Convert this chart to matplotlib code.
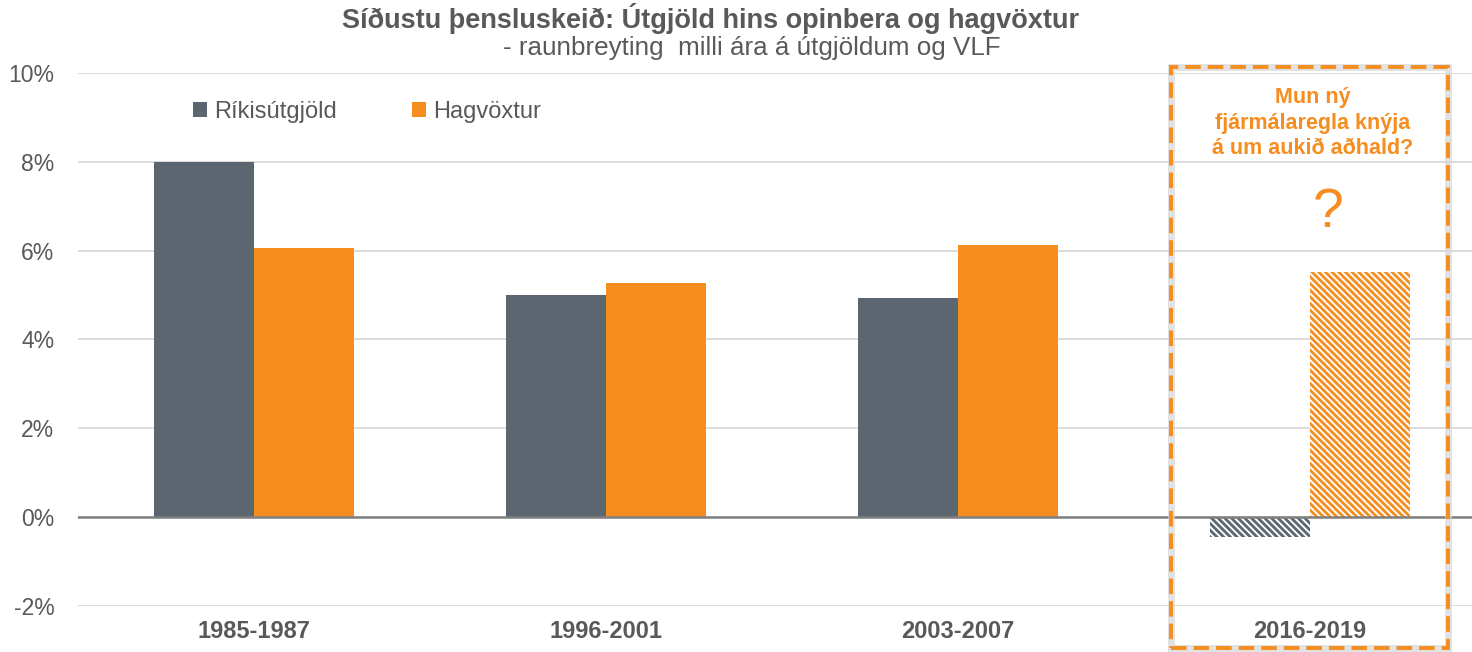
import matplotlib
matplotlib.use("Agg")
import matplotlib.pyplot as plt
from matplotlib.patches import Rectangle
import numpy as np

plt.rcParams['font.family'] = ['Liberation Sans', 'DejaVu Sans']
plt.rcParams['hatch.linewidth'] = 2.0

# data
periods = ["1985-1987", "1996-2001", "2003-2007", "2016-2019"]
rikisutgjold = [8.0, 5.0, 4.93, -0.45]
hagvoxtur = [6.05, 5.28, 6.13, 5.52]
yticks = [-2, 0, 2, 4, 6, 8, 10]

GRAY = "#5C6670"
ORANGE = "#F58D1F"
TXT = "#595959"

fig = plt.figure(figsize=(14.72, 6.52), dpi=100)
ax = fig.add_axes([78/1472, 1 - 606/652, (1472-78)/1472, (606-73)/652])

x = np.arange(len(periods))
w = 0.284
n = len(periods)
# solid bars for the first three periods, hatched forecast for the last
ax.bar(x[:n-1] - w/2, rikisutgjold[:n-1], w, color=GRAY, zorder=3, label="Ríkisútgjöld")
ax.bar(x[:n-1] + w/2, hagvoxtur[:n-1], w, color=ORANGE, zorder=3, label="Hagvöxtur")
ax.bar(x[n-1] - w/2, rikisutgjold[n-1], w, facecolor="white", edgecolor=GRAY,
       linewidth=0, hatch="\\\\\\\\\\", zorder=3)
ax.bar(x[n-1] + w/2, hagvoxtur[n-1], w, facecolor="white", edgecolor=ORANGE,
       linewidth=0, hatch="\\\\\\\\\\", zorder=3)

ax.set_ylim(-2, 10)
ax.set_xlim(-0.5, 3.46)
ax.set_yticks(yticks)
ax.set_yticklabels([f"{v}%" for v in yticks])
ax.yaxis.grid(True, color="#D9D9D9", linewidth=1.3, zorder=0)
ax.axhline(0, color="#7F7F7F", linewidth=1.8, zorder=4)
ax.set_xticks(x)
ax.set_xticklabels(periods, fontweight="bold")
ax.tick_params(axis="y", length=0, labelsize=16.5, labelcolor=TXT, pad=17)
ax.tick_params(axis="x", length=0, labelsize=17, labelcolor=TXT, pad=10)
for s in ax.spines.values():
    s.set_visible(False)

ax.legend(loc="center left", bbox_to_anchor=(0.067, 0.927), ncol=2, frameon=False,
          fontsize=17, labelcolor=TXT, handlelength=0.6, handleheight=0.6,
          handletextpad=0.3, columnspacing=3.2)

fig.text(0.483, 0.972, "Síðustu þensluskeið: Útgjöld hins opinbera og hagvöxtur",
         ha="center", va="center", fontsize=19.5, fontweight="bold", color=TXT)
fig.text(0.511, 0.926, "- raunbreyting  milli ára á útgjöldum og VLF",
         ha="center", va="center", fontsize=18.7, color=TXT)

# dashed box around the last period, with a soft gray shadow
shadow = Rectangle((1171/1472, 1 - 648/652), (1448-1171)/1472, (648-67)/652,
                   transform=fig.transFigure, fill=False, edgecolor="#D6D6D6",
                   linewidth=5, alpha=0.7, zorder=5)
fig.add_artist(shadow)
box = Rectangle((1171/1472, 1 - 648/652), (1448-1171)/1472, (648-67)/652,
                transform=fig.transFigure, fill=False, edgecolor=ORANGE,
                linewidth=2.8, linestyle=(0, (4, 1.8)), zorder=6)
fig.add_artist(box)

fig.text(1313/1472, 1 - 123/652, "Mun ný\nfjármálaregla knýja\ná um aukið aðhald?",
         ha="center", va="center", fontsize=15.5, fontweight="bold", color=ORANGE,
         linespacing=1.3)
fig.text(1328/1472, 1 - 213/652, "?", ha="center", va="center", fontsize=40,
         color=ORANGE)

fig.savefig("out.png", dpi=100)
